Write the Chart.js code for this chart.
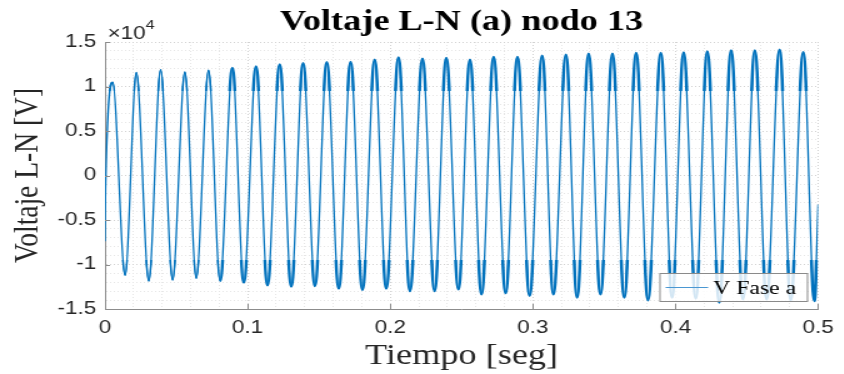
<!DOCTYPE html>
<html lang="es">
<head>
<meta charset="UTF-8">
<title>Voltaje L-N (a) nodo 13</title>
<style>
    body {
        margin: 0;
        padding: 0;
        background: #fff;
        overflow: hidden;
    }
    /* la figura original esta estirada en horizontal, se imita con scaleX */
    .wrap {
        width: 675px;
        height: 374px;
        transform: scaleX(1.25);
        transform-origin: 0 0;
    }
</style>
</head>
<body>
<div class="wrap">
    <canvas id="voltChart" width="675" height="374"></canvas>
</div>

<script src="https://cdn.jsdelivr.net/npm/chart.js"></script>
<script>
// datos (tiempo en s, voltaje en V)
const startTimes = [0, 0.0004];
const startValues = [-7400, -1500];

const peakTimes = [0.0054, 0.0220, 0.0390, 0.0560, 0.0726, 0.0893, 0.1059, 0.1225, 0.1389, 0.1555,
                   0.1722, 0.1891, 0.2058, 0.2226, 0.2393, 0.2559, 0.2725, 0.2892, 0.3065, 0.3232,
                   0.3391, 0.3558, 0.3724, 0.3897, 0.4057, 0.4223, 0.4390, 0.4556, 0.4730, 0.4896];
const peakValues = [10450, 11570, 11870, 11600, 11800, 12060, 12240, 12460, 12600, 12700,
                    12750, 13000, 13250, 13100, 13180, 12990, 13290, 13290, 13440, 13550,
                    13660, 13660, 13740, 13740, 13810, 13920, 14030, 14030, 14110, 13850];

const troughTimes = [0.0141, 0.0307, 0.0474, 0.0640, 0.0807, 0.0973, 0.1139, 0.1306, 0.1472, 0.1639,
                     0.1805, 0.1972, 0.2138, 0.2311, 0.2478, 0.2640, 0.2809, 0.2977, 0.3144, 0.3310,
                     0.3474, 0.3641, 0.3807, 0.3976, 0.4142, 0.4307, 0.4473, 0.4639, 0.4808, 0.4974];
const troughValues = [-11200, -11840, -11720, -11530, -11840, -12020, -12320, -12460, -12400, -12690,
                      -12840, -12690, -12960, -12960, -12770, -13330, -13200, -13500, -13330, -13700,
                      -13330, -13700, -14000, -13700, -13800, -14250, -13900, -13900, -14000, -14100];

const endTimes = [0.5];
const endValues = [-3250];

// nivel a partir del cual el ruido engrosa las crestas
const noiseLevel = 9500;

const xTicks = [0, 0.1, 0.2, 0.3, 0.4, 0.5];
const xTickLabels = ['0', '0.1', '0.2', '0.3', '0.4', '0.5'];
const yTicks = [-15000, -10000, -5000, 0, 5000, 10000, 15000];
const yTickLabels = ['-1.5', '-1', '-0.5', '0', '0.5', '1', '1.5'];

const blue = '#0072BD';
const plotHeight = 267;   // alto del area de trazado (42..309)
const noiseClip = -Math.round(plotHeight * (15000 + noiseLevel) / 30000);

// armar la serie
const points = [];
startTimes.forEach((t, i) => points.push({x: t, y: startValues[i]}));
peakTimes.forEach((t, i) => {
    points.push({x: t, y: peakValues[i]});
    points.push({x: troughTimes[i], y: troughValues[i]});
});
endTimes.forEach((t, i) => points.push({x: t, y: endValues[i]}));

function labelFor(list, labels, v) {
    const i = list.findIndex(m => Math.abs(m - v) < 1e-9);
    return i >= 0 ? labels[i] : '';
}
function isMajor(list, v) {
    return list.some(m => Math.abs(m - v) < 1e-9);
}
// el ruido es menor en los primeros ciclos
const noiseWidth = c => c.p0.parsed.x < 0.08 ? 1.8 : 2.7;

// ticks hacia adentro, exponente y leyenda estilo MATLAB
const extras = {
    id: 'extras',
    afterDraw(chart) {
        const {ctx, chartArea: a, scales: {x, y}} = chart;
        ctx.save();
        ctx.strokeStyle = '#8c8c8c';
        ctx.lineWidth = 1;
        ctx.beginPath();
        xTicks.forEach(v => {
            const px = Math.round(x.getPixelForValue(v)) + 0.5;
            ctx.moveTo(px, a.bottom);
            ctx.lineTo(px, a.bottom - 5);
        });
        yTicks.forEach(v => {
            const py = Math.round(y.getPixelForValue(v)) + 0.5;
            ctx.moveTo(a.left, py);
            ctx.lineTo(a.left + 4, py);
        });
        ctx.stroke();

        // x10^4
        ctx.fillStyle = '#262626';
        ctx.textBaseline = 'alphabetic';
        ctx.textAlign = 'left';
        ctx.font = '18px "Liberation Sans", Arial, sans-serif';
        ctx.fillText('\u00d710', a.left + 2, a.top - 3);
        const w = ctx.measureText('\u00d710').width;
        ctx.font = '13px "Liberation Sans", Arial, sans-serif';
        ctx.fillText('4', a.left + 2 + w, a.top - 13);

        // leyenda
        const bw = 118, bh = 28;
        const bx = a.right - 9 - bw, by = a.bottom - 8 - bh;
        ctx.fillStyle = 'rgba(255, 255, 255, 0.82)';
        ctx.fillRect(bx, by, bw, bh);
        ctx.strokeStyle = '#8a8a8a';
        ctx.strokeRect(bx + 0.5, by + 0.5, bw, bh);
        ctx.strokeStyle = '#4a97d2';
        ctx.beginPath();
        ctx.moveTo(bx + 5, by + 14.5);
        ctx.lineTo(bx + 39, by + 14.5);
        ctx.stroke();
        ctx.fillStyle = '#000';
        ctx.font = '19px "Liberation Serif", "Times New Roman", serif';
        ctx.fillText(chart.data.datasets[0].label, bx + 43, by + 21);
        ctx.restore();
    }
};

const ctx = document.getElementById('voltChart').getContext('2d');
new Chart(ctx, {
    type: 'line',
    data: {
        datasets: [{
            label: 'V Fase a',
            data: points,
            borderColor: blue,
            borderWidth: 1.3,
            pointRadius: 0,
            cubicInterpolationMode: 'monotone'
        }, {
            label: 'crestas',
            data: points,
            borderColor: blue,
            borderWidth: 2.7,
            segment: {borderWidth: noiseWidth},
            pointRadius: 0,
            cubicInterpolationMode: 'monotone',
            clip: {left: 0, right: 0, top: 0, bottom: noiseClip}
        }, {
            label: 'valles',
            data: points,
            borderColor: blue,
            borderWidth: 2.7,
            segment: {borderWidth: noiseWidth},
            pointRadius: 0,
            cubicInterpolationMode: 'monotone',
            clip: {left: 0, right: 0, top: noiseClip, bottom: 0}
        }]
    },
    plugins: [extras],
    options: {
        responsive: false,
        animation: false,
        events: [],
        layout: {
            padding: {left: 0, right: 14, top: 0, bottom: 0}
        },
        plugins: {
            legend: {display: false},
            tooltip: {enabled: false},
            title: {
                display: true,
                fullSize: false,
                text: 'Voltaje L-N (a) nodo 13',
                color: '#000',
                font: {family: '"Liberation Serif", "Times New Roman", serif', size: 29, weight: 'bold', lineHeight: 1},
                padding: {top: 8, bottom: 5}
            }
        },
        scales: {
            x: {
                type: 'linear',
                min: 0,
                max: 0.5,
                afterFit: s => { s.height = 65; },
                ticks: {
                    stepSize: 0.02,
                    autoSkip: false,
                    maxRotation: 0,
                    padding: 8,
                    color: '#262626',
                    font: {family: '"Liberation Sans", Arial, sans-serif', size: 18},
                    callback: v => labelFor(xTicks, xTickLabels, v)
                },
                grid: {
                    drawTicks: false,
                    lineWidth: 1,
                    color: c => isMajor(xTicks, c.tick.value) ? '#d2d2d2' : '#e6e6e6'
                },
                border: {display: true, color: '#8c8c8c', width: 1, dash: [1, 2]},
                title: {
                    display: true,
                    text: 'Tiempo [seg]',
                    color: '#262626',
                    font: {family: '"Liberation Serif", "Times New Roman", serif', size: 29, lineHeight: 1},
                    padding: {top: 0, bottom: 3}
                }
            },
            y: {
                min: -15000,
                max: 15000,
                afterFit: s => { s.width = 84; },
                ticks: {
                    stepSize: 1000,
                    autoSkip: false,
                    padding: 7,
                    color: '#262626',
                    font: {family: '"Liberation Sans", Arial, sans-serif', size: 18},
                    callback: v => labelFor(yTicks, yTickLabels, v)
                },
                grid: {
                    drawTicks: false,
                    lineWidth: 1,
                    color: c => isMajor(yTicks, c.tick.value) ? '#d2d2d2' : '#e6e6e6'
                },
                border: {display: true, color: '#8c8c8c', width: 1, dash: [1, 2]},
                title: {
                    display: true,
                    text: 'Voltaje L-N [V]',
                    color: '#262626',
                    font: {family: '"Liberation Serif", "Times New Roman", serif', size: 27.5, lineHeight: 1},
                    padding: {top: 9, bottom: 0}
                }
            }
        }
    }
});
</script>
</body>
</html>
